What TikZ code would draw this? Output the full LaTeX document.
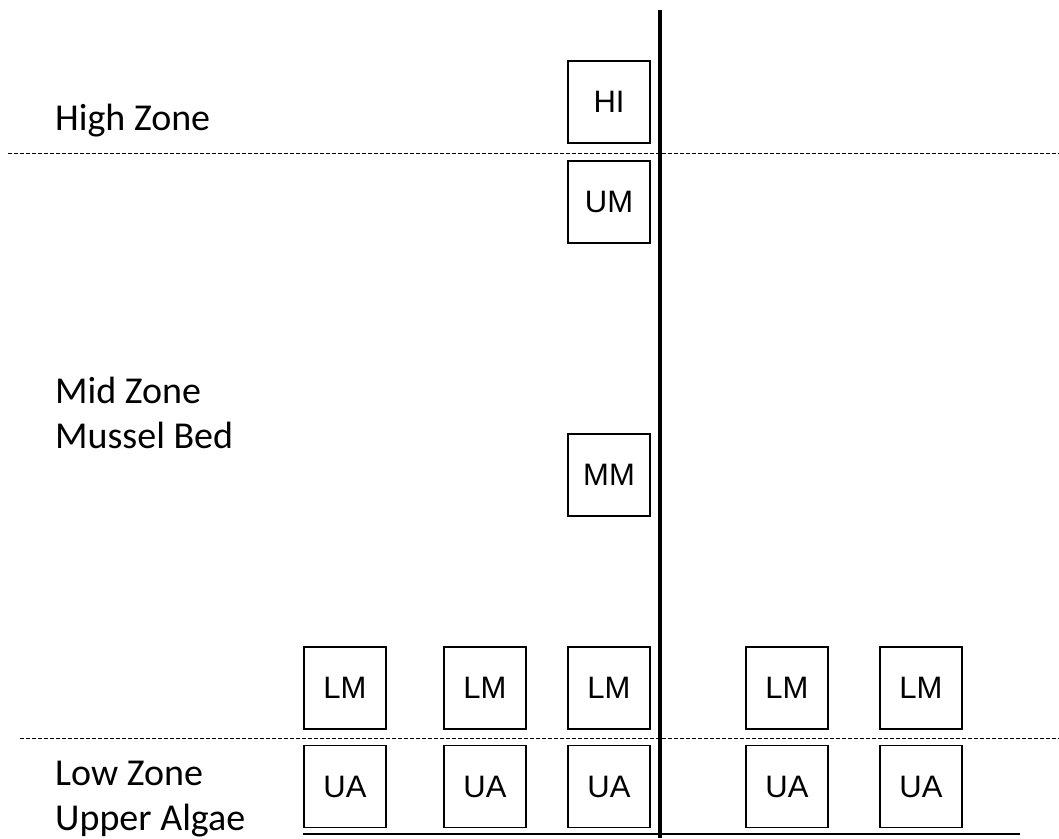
\documentclass[tikz,border=0pt]{standalone}
\usepackage{fontspec}
\setmainfont{Carlito}
\newfontfamily\boxfont{Liberation Sans}
\begin{document}
\begin{tikzpicture}[x=1pt,y=-1pt,
  zbox/.style={draw, line width=1.3pt, minimum width=82pt, minimum height=82pt, inner sep=0pt, font=\boxfont\fontsize{31}{34}\selectfont},
  zlabel/.style={anchor=base west, inner sep=0pt, font=\fontsize{38}{42}\selectfont},
  zoneline/.style={dash pattern=on 4pt off 2pt, line width=1pt},
  axisline/.style={line width=3.8pt},
  baseline/.style={line width=2.5pt}]
\useasboundingbox (0,0) rectangle (1059,838);
% zone boundaries
\coordinate (d1a) at (8,153);
\coordinate (d1b) at (1059,153);
\coordinate (d2a) at (20,738);
\coordinate (d2b) at (1059,738);
\draw[zoneline] (d1a) -- (d1b);
\draw[zoneline] (d2a) -- (d2b);
% axes
\coordinate (vtop) at (660,10);
\coordinate (vbot) at (660,838);
\coordinate (bl) at (303,834);
\coordinate (br) at (1020,834);
\draw[axisline] (vtop) -- (vbot);
\draw[baseline] (bl) -- (br);
% zone labels
\node[zlabel] (high) at (55,130) {High Zone};
\node[zlabel] (mid1) at (55,403) {Mid Zone};
\node[zlabel] (mid2) at (55,448) {Mussel Bed};
\node[zlabel] (low1) at (55,785) {Low Zone};
\node[zlabel] (low2) at (55,830) {Upper Algae};
% boxes
\node[zbox] (hi) at (609,102) {HI};
\node[zbox] (um) at (609,202) {UM};
\node[zbox] (mm) at (609,475) {MM};
\node[zbox] (lm1) at (345,688) {LM};
\node[zbox] (lm2) at (485,688) {LM};
\node[zbox] (lm3) at (609,688) {LM};
\node[zbox] (lm4) at (787,688) {LM};
\node[zbox] (lm5) at (921,688) {LM};
\node[zbox] (ua1) at (345,786.5) {UA};
\node[zbox] (ua2) at (485,786.5) {UA};
\node[zbox] (ua3) at (609,786.5) {UA};
\node[zbox] (ua4) at (787,786.5) {UA};
\node[zbox] (ua5) at (921,786.5) {UA};
\end{tikzpicture}
\end{document}
